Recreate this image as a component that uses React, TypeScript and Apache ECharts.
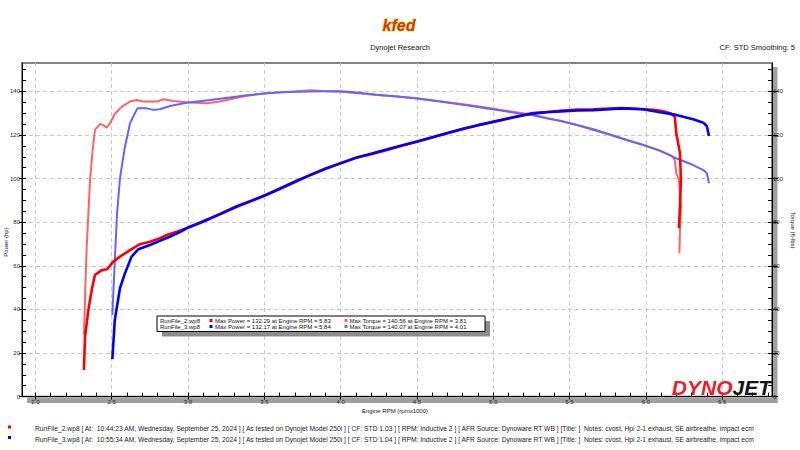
import React, { useEffect, useRef } from 'react';
import * as echarts from 'echarts';

// ---------- data (rpm x1000, value) ----------
const run2Power: [number, number][] = [
  [2.318, 12.2], [2.325, 27.5], [2.347, 39.7], [2.369, 48.9], [2.39, 55.8], [2.434, 58], [2.47, 58.4],
  [2.51, 61.9], [2.554, 64.2], [2.62, 67.2], [2.685, 69.9], [2.75, 71], [2.816, 72.6], [2.86, 74.1],
  [2.926, 75.6], [2.99, 77.2], [3.1, 80.2], [3.21, 83.6], [3.32, 87], [3.42, 89.8], [3.516, 92.5],
  [3.62, 95.8], [3.72, 99], [3.81, 102], [3.9, 104.5], [3.996, 107], [4.1, 109.5], [4.2, 111.2],
  [4.3, 113], [4.4, 115], [4.5, 116.9], [4.6, 118.8], [4.7, 120.8], [4.8, 122.6], [4.9, 124.4],
  [5.0, 126.1], [5.1, 127.7], [5.2, 129.2], [5.26, 130], [5.35, 130.5], [5.44, 131.1], [5.55, 131.6],
  [5.656, 131.8], [5.76, 132.1], [5.83, 132.29], [5.875, 132.2], [5.96, 131.9], [6.05, 131.5],
  [6.12, 130.8], [6.16, 130], [6.19, 128.4], [6.2, 120.8], [6.215, 115], [6.224, 111.6], [6.23, 99.4],
  [6.224, 87.1], [6.217, 77.2],
];
const run2Torque: [number, number][] = [
  [2.318, 28.3], [2.325, 45], [2.336, 68.8], [2.358, 99.4], [2.375, 113], [2.39, 122.3], [2.423, 125],
  [2.445, 124.5], [2.467, 123.3], [2.489, 125.4], [2.52, 129.6], [2.566, 133], [2.62, 135.3],
  [2.664, 136], [2.707, 135.3], [2.795, 135.3], [2.838, 136.4], [2.904, 135.6], [2.99, 135],
  [3.05, 134.8], [3.12, 134.5], [3.2, 135.2], [3.254, 136], [3.385, 138], [3.516, 139.1], [3.6, 139.6],
  [3.69, 139.9], [3.81, 140.56], [3.9, 140.1], [3.996, 139.8], [4.1, 139.2], [4.236, 138.3],
  [4.37, 137.6], [4.5, 136.8], [4.66, 135.4], [4.826, 133.8], [4.94, 132.7], [5.05, 131.5],
  [5.16, 130.3], [5.26, 129.3], [5.35, 127.8], [5.436, 126.5], [5.55, 124.5], [5.656, 122.3],
  [5.77, 120], [5.875, 117.7], [5.99, 115.2], [6.093, 112.7], [6.17, 110.4], [6.19, 108.5],
  [6.2, 102.4], [6.217, 99.4], [6.23, 87.1], [6.224, 76.4], [6.22, 65.7],
];
const run3Power: [number, number][] = [
  [2.504, 17.2], [2.52, 35], [2.554, 49.7], [2.587, 56.6], [2.63, 64.2], [2.675, 67.6], [2.75, 69.5],
  [2.816, 71.4], [2.88, 73.3], [2.95, 75.6], [2.99, 77.2], [3.1, 80.4], [3.21, 83.8], [3.32, 87.3],
  [3.42, 90], [3.516, 92.7], [3.62, 96], [3.72, 99.2], [3.81, 101.8], [3.9, 104.5], [4.01, 107.2],
  [4.1, 109.5], [4.2, 111.4], [4.3, 113.3], [4.4, 115.2], [4.5, 117], [4.6, 118.9], [4.7, 120.9],
  [4.8, 122.8], [4.9, 124.5], [5.0, 126], [5.1, 127.5], [5.2, 129], [5.26, 129.8], [5.35, 130.4],
  [5.44, 130.8], [5.55, 131.2], [5.656, 131.4], [5.765, 131.8], [5.84, 132.17], [5.98, 131.8],
  [6.093, 130.4], [6.2, 129.2], [6.31, 127.2], [6.377, 125.6], [6.4, 124.1], [6.414, 119.5],
];
const run3Torque: [number, number][] = [
  [2.504, 37.4], [2.52, 62], [2.535, 84], [2.554, 100.1], [2.585, 114], [2.62, 125.4], [2.668, 132.2],
  [2.73, 132.2], [2.773, 131.5], [2.816, 131.8], [2.882, 133.3], [2.99, 134.8], [3.144, 136],
  [3.25, 137], [3.36, 138], [3.516, 139.1], [3.65, 139.7], [3.8, 139.9], [3.9, 140], [4.01, 140.07],
  [4.12, 139.4], [4.236, 138.4], [4.37, 137.6], [4.5, 136.7], [4.66, 135.2], [4.826, 133.6],
  [4.94, 132.4], [5.05, 131.2], [5.16, 130], [5.26, 129], [5.35, 127.6], [5.436, 126.5], [5.55, 124.6],
  [5.656, 122.6], [5.77, 120.1], [5.875, 117.7], [5.99, 115.3], [6.093, 112.8], [6.2, 109.3],
  [6.31, 106.2], [6.377, 103.9], [6.4, 102.4], [6.414, 97.8],
];

// ---------- ticks / labels ----------
const xMajorTicks = [2.0, 2.5, 3.0, 3.5, 4.0, 4.5, 5.0, 5.5, 6.0, 6.5];
const yMajorTicks = [0, 20, 40, 60, 80, 100, 120, 140];
const runNames = ['RunFile_2.wp8', 'RunFile_3.wp8'];
const maxPower = ['132.29', '132.17'];
const maxPowerRpm = ['5.83', '5.84'];
const maxTorque = ['140.56', '140.07'];
const maxTorqueRpm = ['3.81', '4.01'];
const runNotes = [
  'RunFile_2.wp8 [ At:  10:44:23 AM, Wednesday, September 25, 2024 ] [ As tested on Dynojet Model 250i ] [ CF: STD 1.03 ] [ RPM: Inductive 2 ] [ AFR Source: Dynoware RT WB ] [Title: ]  Notes: cvost, Hpi 2-1 exhaust, SE airbreathe, impact ecm',
  'RunFile_3.wp8 [ At:  10:55:34 AM, Wednesday, September 25, 2024 ] [ As tested on Dynojet Model 250i ] [ CF: STD 1.04 ] [ RPM: Inductive 2 ] [ AFR Source: Dynoware RT WB ] [Title: ]  Notes: cvost, Hpi 2-1 exhaust, SE airbreathe, impact ecm',
];

const POWER_COLORS = ['#ff0000', '#0000ff'];
const TORQUE_COLORS = ['#ff6464', '#6464ff'];
const FONT = '"Liberation Sans", Arial, sans-serif';

const X_MIN = 1.912;
const X_MAX = 6.827;
const Y_MAX = 153;

const xMinorTicks: number[] = [];
for (let i = 20; i <= 68; i++) xMinorTicks.push(i / 10);
const yMinorTicks: number[] = [];
for (let v = 0; v <= 150; v += 5) yMinorTicks.push(v);

function txt(text: string, x: number, y: number, size: number, align: string, extra: any = {}) {
  return {
    type: 'text',
    x,
    y,
    z: 50,
    silent: true,
    style: {
      text,
      fill: '#111',
      font: `${size}px ${FONT}`,
      textAlign: align,
      align,
      textVerticalAlign: 'middle',
      verticalAlign: 'middle',
      ...extra,
    },
  };
}

export default function App() {
  const ref = useRef<HTMLDivElement>(null);
  useEffect(() => {
    const chart = echarts.init(ref.current!, null, { renderer: 'svg', width: 800, height: 450 });

    const axisLabelStyle = { fontSize: 6, color: '#222', fontFamily: FONT };
    const xAxisDef = (main: boolean) => ({
      type: 'value',
      min: X_MIN,
      max: X_MAX,
      position: 'bottom',
      axisLine: { show: main, onZero: false, lineStyle: { color: '#000', width: 1 } },
      axisTick: main
        ? { show: true, customValues: xMajorTicks, inside: false, length: 3, lineStyle: { color: '#000' } }
        : { show: true, customValues: xMinorTicks, inside: true, length: 4, lineStyle: { color: '#000' } },
      axisLabel: main
        ? { show: true, customValues: xMajorTicks, formatter: (v: number) => v.toFixed(1), margin: 2, ...axisLabelStyle }
        : { show: false },
      splitLine: main
        ? { show: true, lineStyle: { color: '#c8c8c8', type: [4, 3], width: 1 } }
        : { show: false },
    });
    const yAxisDef = (pos: string, main: boolean) => ({
      type: 'value',
      min: 0,
      max: Y_MAX,
      position: pos,
      axisLine: { show: main, onZero: false, lineStyle: { color: '#000', width: 1 } },
      axisTick: main
        ? { show: true, customValues: yMajorTicks, inside: false, length: pos === 'left' ? 3 : 6, lineStyle: { color: '#000' } }
        : { show: true, customValues: yMinorTicks, inside: true, length: 4, lineStyle: { color: '#000' } },
      axisLabel: main
        ? { show: true, customValues: yMajorTicks, margin: pos === 'left' ? 2 : 1, ...axisLabelStyle }
        : { show: false },
      splitLine: main && pos === 'left'
        ? { show: true, lineStyle: { color: '#c8c8c8', type: [4, 3], width: 1 } }
        : { show: false },
    });

    const legendRows: any[] = [];
    const rowY = [320.5, 326.5];
    for (let i = 0; i < 2; i++) {
      legendRows.push(txt(runNames[i], 160, rowY[i], 6, 'left'));
      legendRows.push({ type: 'rect', z: 50, shape: { x: 209.5, y: rowY[i] - 1.5, width: 3, height: 3 }, style: { fill: POWER_COLORS[i] } });
      legendRows.push(txt(`Max Power = ${maxPower[i]} at Engine RPM = ${maxPowerRpm[i]}`, 215, rowY[i], 6, 'left'));
      legendRows.push({ type: 'rect', z: 50, shape: { x: 344.5, y: rowY[i] - 1.5, width: 3, height: 3 }, style: { fill: TORQUE_COLORS[i] } });
      legendRows.push(txt(`Max Torque = ${maxTorque[i]} at Engine RPM = ${maxTorqueRpm[i]}`, 349.5, rowY[i], 6, 'left'));
    }

    const notes: any[] = [];
    const noteY = [428.5, 439];
    for (let i = 0; i < 2; i++) {
      notes.push({ type: 'rect', z: 50, shape: { x: 8, y: noteY[i] - 3, width: 3, height: 3 }, style: { fill: POWER_COLORS[i] } });
      notes.push(txt(runNotes[i], 35, noteY[i], 6.7, 'left', { fill: '#222' }));
    }

    const option: any = {
      animation: false,
      backgroundColor: '#ffffff',
      grid: {
        left: 22,
        right: 28,
        top: 63,
        bottom: 53.4,
        show: true,
        borderColor: '#5a5a5a',
        borderWidth: 1.5,
        backgroundColor: 'transparent',
        outerBoundsMode: 'none',
      },
      xAxis: [xAxisDef(true), xAxisDef(false)],
      yAxis: [yAxisDef('left', true), yAxisDef('right', true), yAxisDef('left', false), yAxisDef('right', false)],
      series: [
        { name: 'Run2 Torque', type: 'line', yAxisIndex: 1, data: run2Torque, symbol: 'none', lineStyle: { color: TORQUE_COLORS[0], width: 2 }, itemStyle: { color: TORQUE_COLORS[0] }, z: 3 },
        { name: 'Run3 Torque', type: 'line', yAxisIndex: 1, data: run3Torque, symbol: 'none', lineStyle: { color: TORQUE_COLORS[1], width: 2 }, itemStyle: { color: TORQUE_COLORS[1] }, z: 4 },
        { name: 'Run2 Power', type: 'line', yAxisIndex: 0, data: run2Power, symbol: 'none', lineStyle: { color: POWER_COLORS[0], width: 2.6 }, itemStyle: { color: POWER_COLORS[0] }, z: 5 },
        { name: 'Run3 Power', type: 'line', yAxisIndex: 0, data: run3Power, symbol: 'none', lineStyle: { color: POWER_COLORS[1], width: 2.6 }, itemStyle: { color: POWER_COLORS[1] }, z: 6 },
      ],
      graphic: [
        // plot shadows
        { type: 'rect', z: -10, shape: { x: 772.5, y: 67, width: 5, height: 336 }, style: { fill: '#a0a0a0' } },
        { type: 'rect', z: -10, shape: { x: 27, y: 397.5, width: 750.5, height: 5.5 }, style: { fill: '#a0a0a0' } },
        // header logo
        txt('kfed', 399, 25, 16, 'center', {
          font: `italic 900 16px ${FONT}`,
          fill: '#d23c00',
          stroke: '#ffc400',
          lineWidth: 0.8,
        }),
        txt('Dynojet Research', 400, 47, 7.5, 'center'),
        txt('CF: STD Smoothing: 5', 795, 47, 7.5, 'right'),
        // axis names
        { ...txt('Power (hp)', 6, 242, 6, 'center'), rotation: Math.PI / 2 },
        { ...txt('Torque (ft-lbs)', 793, 230, 6, 'center'), rotation: -Math.PI / 2 },
        txt('Engine RPM (rpmx1000)', 395, 411, 6, 'center'),
        // legend box
        { type: 'rect', z: 48, shape: { x: 162, y: 321, width: 328, height: 15.5 }, style: { fill: '#8c8c8c' } },
        { type: 'rect', z: 49, shape: { x: 157, y: 316, width: 328, height: 15.5 }, style: { fill: '#ffffff', stroke: '#000', lineWidth: 1 } },
        ...legendRows,
        // DYNOJET logo
        {
          type: 'text',
          x: 771,
          y: 398,
          z: 40,
          silent: true,
          style: {
            text: '{a|DYNO}{b|JET}',
            textAlign: 'right',
            align: 'right',
            textVerticalAlign: 'bottom',
            verticalAlign: 'bottom',
            rich: {
              a: { fill: '#e8202a', color: '#e8202a', fontSize: 21, fontWeight: 900, fontStyle: 'italic', fontFamily: FONT },
              b: { fill: '#151515', color: '#151515', fontSize: 21, fontWeight: 900, fontStyle: 'italic', fontFamily: FONT },
            },
          },
        },
        ...notes,
      ],
    };
    chart.setOption(option);
    return () => chart.dispose();
  }, []);
  return (
    <div
      ref={ref}
      style={{ position: 'absolute', left: 0, top: 0, width: 800, height: 450, background: '#fff' }}
    />
  );
}
